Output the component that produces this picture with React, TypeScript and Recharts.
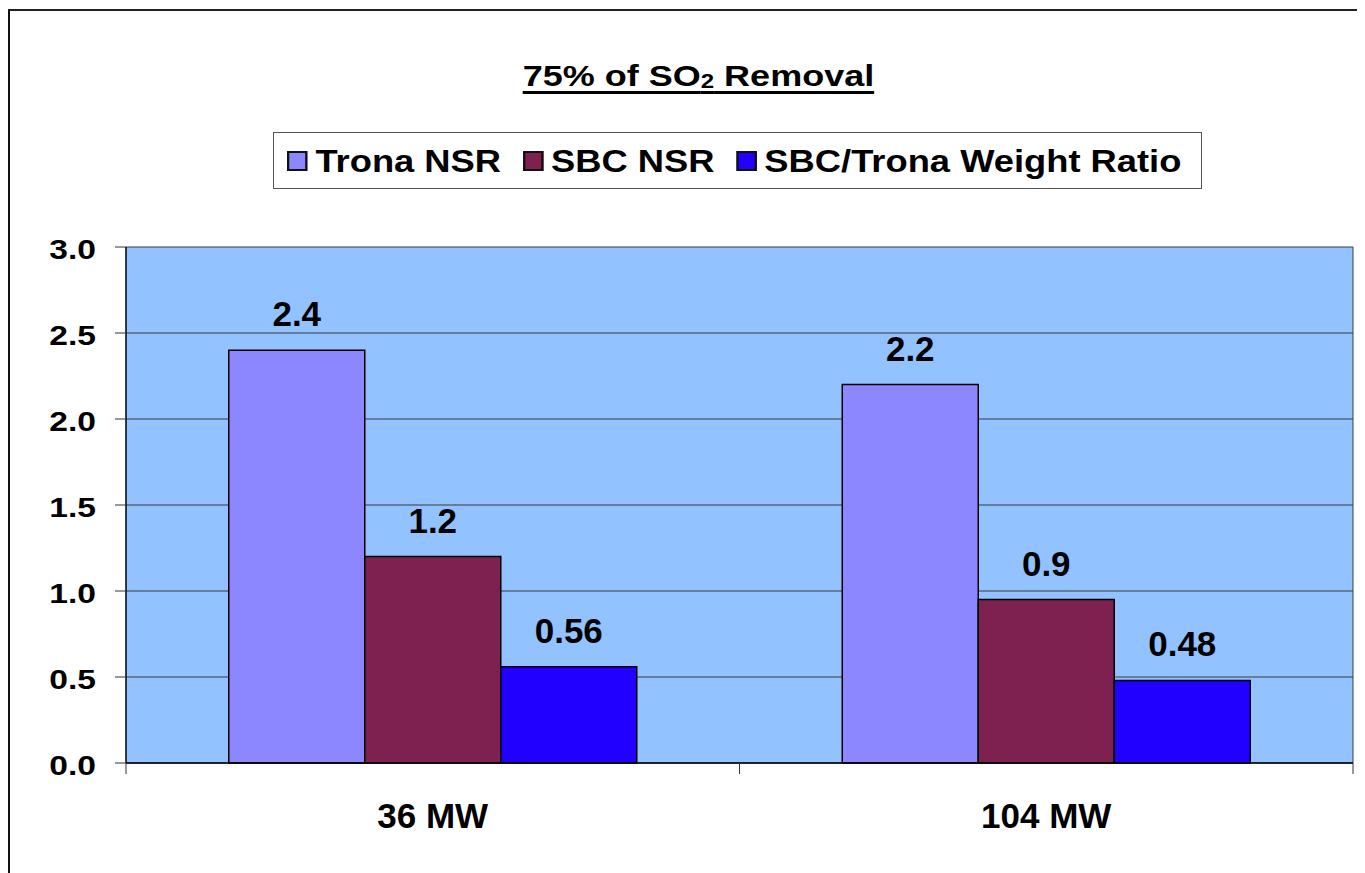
import React from "react";
import { Bar, BarChart, CartesianGrid, LabelList, XAxis, YAxis } from "recharts";

const categories = ["36 MW", "104 MW"];
const tronaNsr = [2.4, 2.2];
const sbcNsr = [1.2, 0.95];
const weightRatio = [0.56, 0.48];
const tronaLabels = ["2.4", "2.2"];
const sbcLabels = ["1.2", "0.9"];
const ratioLabels = ["0.56", "0.48"];
const yTicks = [0, 0.5, 1.0, 1.5, 2.0, 2.5, 3.0];

const series = [
  { key: "trona", name: "Trona NSR", color: "#8C87FF", labels: tronaLabels },
  { key: "sbc", name: "SBC NSR", color: "#7E2050", labels: sbcLabels },
  { key: "ratio", name: "SBC/Trona Weight Ratio", color: "#2200FF", labels: ratioLabels },
];

const data = categories.map((c, i) => ({
  name: c,
  trona: tronaNsr[i],
  sbc: sbcNsr[i],
  ratio: weightRatio[i],
}));

const FONT = '"Liberation Sans", Arial, Helvetica, sans-serif';
const W = 1357;
const H = 865;
const X_AXIS_H = 60;
const margin = { top: 239, right: 12, bottom: 50, left: 0 };
const Y_AXIS_W = 118;
const PLOT_W = W - margin.left - margin.right - Y_AXIS_W;

const YTick = ({ x, y, payload }: any) => (
  <g transform={`translate(${x},${y + 12}) scale(1.2,1)`}>
    <text x={0} y={0} textAnchor="end" fontFamily={FONT} fontWeight="bold" fontSize={28} fill="#000">
      {Number(payload.value).toFixed(1)}
    </text>
  </g>
);

const XTick = ({ x, y, payload, index }: any) => {
  const half = PLOT_W / categories.length / 2;
  return (
    <g>
      <line x1={x - half} x2={x - half} y1={y} y2={y + 11} stroke="#333" />
      {index === categories.length - 1 && (
        <line x1={x + half} x2={x + half} y1={y} y2={y + 11} stroke="#333" />
      )}
      <text x={x} y={y + 65} textAnchor="middle" fontFamily={FONT} fontWeight="bold" fontSize={35} fill="#000">
        {payload.value}
      </text>
    </g>
  );
};

const makeLabel = (labels: string[]) => (props: any) => {
  const { x, y, width, index, value } = props;
  const txt = index != null ? labels[index] : String(value);
  return (
    <text
      x={Number(x) + Number(width) / 2}
      y={Number(y) - 24}
      textAnchor="middle"
      fontFamily={FONT}
      fontWeight="bold"
      fontSize={35}
      fill="#000"
    >
      {txt}
    </text>
  );
};

export default function App() {
  return (
    <div style={{ position: "relative", width: W, height: H, fontFamily: FONT }}>
      <style>{`body{overflow:hidden}`}</style>
      <div
        style={{
          position: "absolute",
          left: 0,
          top: 1,
          width: W,
          height: H,
          borderTop: "2px solid #222",
          borderLeft: "2px solid #111",
          boxSizing: "border-box",
        }}
      />
      <div
        style={{
          position: "absolute",
          left: 390,
          top: 53,
          width: 600,
          textAlign: "center",
          lineHeight: "30px",
          fontSize: 30,
          fontWeight: "bold",
        }}
      >
        <span
          style={{
            display: "inline-block",
            transform: "scaleX(1.2)",
            transformOrigin: "center",
            textDecoration: "underline",
            textDecorationThickness: 3,
            textUnderlineOffset: 5,
          }}
        >
          75% of SO<span style={{ fontSize: 20, verticalAlign: "-2px" }}>2</span> Removal
        </span>
      </div>
      <div
        style={{
          position: "absolute",
          left: 265,
          top: 124,
          width: 929,
          height: 57,
          border: "1.5px solid #555",
          boxSizing: "border-box",
          display: "flex",
          alignItems: "center",
          paddingLeft: 13,
          background: "#fff",
        }}
      >
        <div
          style={{
            display: "flex",
            alignItems: "center",
            transform: "scaleX(1.135)",
            transformOrigin: "left center",
          }}
        >
          {series.map((s, i) => (
            <div key={s.key} style={{ display: "flex", alignItems: "center", marginLeft: i === 0 ? 0 : 19 }}>
              <div
                style={{
                  width: 18,
                  height: 20,
                  background: s.color,
                  border: "2px solid #111",
                  boxSizing: "border-box",
                  marginRight: 7,
                }}
              />
              <span style={{ fontSize: 32, fontWeight: "bold", lineHeight: "32px", color: "#000" }}>{s.name}</span>
            </div>
          ))}
        </div>
      </div>
      <div style={{ position: "absolute", left: 0, top: 0 }}>
        <BarChart width={W} height={H} data={data} margin={margin} barCategoryGap="16.75%" barGap={0}>
          <CartesianGrid
            horizontal
            vertical
            fill="#92C2FF"
            fillOpacity={1}
            stroke="#3A3A3A"
            verticalCoordinatesGenerator={({ offset }: any) => [offset.left + offset.width]}
          />
          <XAxis
            dataKey="name"
            axisLine={{ stroke: "#000", strokeWidth: 1.5 }}
            tickLine={false}
            tickSize={0}
            tickMargin={0}
            tick={<XTick />}
            height={X_AXIS_H}
            interval={0}
          />
          <YAxis
            domain={[0, 3]}
            ticks={yTicks}
            width={Y_AXIS_W}
            axisLine={{ stroke: "#000", strokeWidth: 1.5 }}
            tickLine={{ stroke: "#333" }}
            tickSize={11}
            tickMargin={19}
            tick={<YTick />}
            interval={0}
          />
          {series.map((s) => (
            <Bar
              key={s.key}
              dataKey={s.key}
              name={s.name}
              fill={s.color}
              stroke="#000"
              strokeWidth={1.5}
              isAnimationActive={false}
            >
              <LabelList dataKey={s.key} content={makeLabel(s.labels)} />
            </Bar>
          ))}
        </BarChart>
      </div>
    </div>
  );
}
